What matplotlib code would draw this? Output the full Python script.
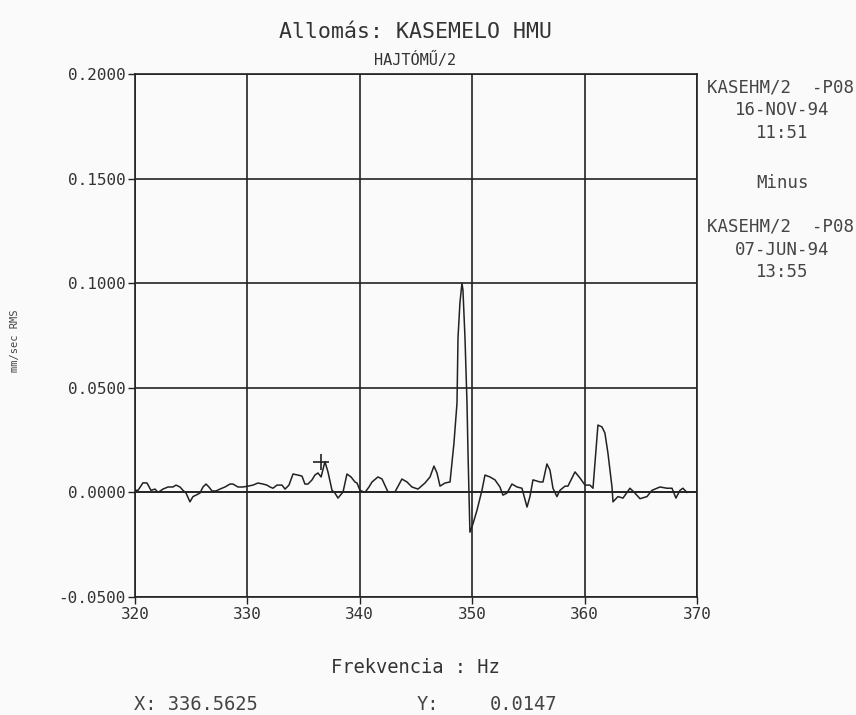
import numpy as np
import matplotlib.pyplot as plt

# spektrum különbség
freq = [320.00, 320.27, 320.71, 321.07, 321.42, 321.78, 322.05, 322.49, 322.94, 323.38,
        323.65, 324.00, 324.27, 324.54, 324.89, 325.16, 325.43, 325.78, 326.05, 326.32,
        326.58, 326.85, 327.21, 327.56, 328.01, 328.45, 328.72, 329.16, 329.61, 330.05,
        330.50, 330.94, 331.39, 331.74, 332.01, 332.28, 332.63, 333.08, 333.35, 333.70,
        334.06, 334.50, 334.86, 335.12, 335.39, 335.75, 336.01, 336.28, 336.56, 336.90,
        337.17, 337.53, 337.79, 338.06, 338.51, 338.86, 339.22, 339.57, 339.75, 340.02,
        340.46, 340.82, 341.09, 341.62, 341.98, 342.51, 343.13, 343.75, 344.20, 344.64,
        345.18, 345.80, 346.25, 346.60, 346.87, 347.14, 347.58, 348.03, 348.38, 348.65,
        348.74, 348.91, 349.09, 349.18, 349.36, 349.54, 349.63, 349.80, 350.07, 350.43,
        350.87, 351.14, 351.58, 352.03, 352.47, 352.74, 353.10, 353.54, 353.99, 354.43,
        354.88, 355.14, 355.41, 356.03, 356.30, 356.65, 356.92, 357.19, 357.54, 357.81,
        358.26, 358.52, 359.15, 359.59, 360.04, 360.48, 360.75, 361.19, 361.55, 361.81,
        362.08, 362.44, 362.53, 362.97, 363.42, 364.04, 364.48, 364.93, 365.55, 366.00,
        366.71, 367.33, 367.78, 368.13, 368.49, 368.75, 369.11]
ampl = [0.0010, 0.0010, 0.0046, 0.0045, 0.0010, 0.0016, 0.0000, 0.0016, 0.0026, 0.0026,
        0.0035, 0.0026, 0.0010, -0.0003, -0.0045, -0.0020, -0.0013, -0.0003, 0.0026, 0.0040,
        0.0026, 0.0007, 0.0007, 0.0016, 0.0026, 0.0040, 0.0040, 0.0026, 0.0026, 0.0030,
        0.0035, 0.0045, 0.0040, 0.0035, 0.0026, 0.0020, 0.0035, 0.0035, 0.0016, 0.0035,
        0.0088, 0.0083, 0.0078, 0.0040, 0.0040, 0.0060, 0.0083, 0.0093, 0.0074, 0.0147,
        0.0098, 0.0010, -0.0003, -0.0027, 0.0002, 0.0088, 0.0074, 0.0050, 0.0045, 0.0010,
        0.0000, 0.0026, 0.0050, 0.0074, 0.0064, 0.0002, 0.0002, 0.0064, 0.0050, 0.0026,
        0.0016, 0.0045, 0.0074, 0.0126, 0.0093, 0.0030, 0.0045, 0.0050, 0.0236, 0.0427,
        0.0740, 0.0905, 0.1000, 0.0967, 0.0740, 0.0427, 0.0188, -0.0190, -0.0150, -0.0085,
        0.0010, 0.0083, 0.0074, 0.0060, 0.0026, -0.0013, -0.0003, 0.0040, 0.0026, 0.0020,
        -0.0070, -0.0020, 0.0060, 0.0050, 0.0050, 0.0136, 0.0107, 0.0020, -0.0020, 0.0010,
        0.0030, 0.0030, 0.0098, 0.0069, 0.0035, 0.0035, 0.0020, 0.0322, 0.0313, 0.0284,
        0.0188, 0.0026, -0.0045, -0.0020, -0.0027, 0.0020, -0.0003, -0.0030, -0.0020, 0.0010,
        0.0026, 0.0020, 0.0020, -0.0027, 0.0010, 0.0020, 0.0000]

cursor_x = 336.5625
cursor_y = 0.0147

xticks = [320, 330, 340, 350, 360, 370]
yticks = [-0.05, 0.0, 0.05, 0.1, 0.15, 0.2]

plt.rcParams['font.family'] = ['DejaVu Sans Mono']
ink = '#222222'
txtc = '#444444'

fig = plt.figure(figsize=(8.56, 7.15), dpi=100, facecolor='#fafafa')
ax = fig.add_axes([0.1577, 0.165, 0.6565, 0.7315])
ax.set_facecolor('#fafafa')

ax.plot(freq, ampl, color=ink, lw=1.1)
ax.plot([cursor_x], [cursor_y], marker='+', ms=11, mew=1.2, color=ink)

ax.set_xlim(320, 370)
ax.set_ylim(-0.05, 0.2)
ax.set_xticks(xticks)
ax.set_yticks(yticks)
ax.set_xticklabels([str(t) for t in xticks])
ax.set_yticklabels([f'{t:.4f}' for t in yticks])
ax.grid(True, color=ink, lw=1.2)
ax.axhline(0, color=ink, lw=1.2)
ax.tick_params(direction='out', length=5, width=1.0, colors=ink, labelsize=11.5, pad=2,
               labelcolor='#333333')
for s in ax.spines.values():
    s.set_color(ink)
    s.set_linewidth(1.2)

# feliratok
fig.text(0.485, 0.955, 'Allomás: KASEMELO HMU', ha='center', va='center', fontsize=15.5, color='#333333')
fig.text(0.485, 0.916, 'HAJTÓMŰ/2', ha='center', va='center', fontsize=11, color='#333333')
fig.text(0.018, 0.523, 'mm/sec RMS', rotation=90, ha='center', va='center', fontsize=7.5, color=txtc)
fig.text(0.485, 0.067, 'Frekvencia : Hz', ha='center', va='center', fontsize=13.5, color='#333333')
fig.text(0.157, 0.015, 'X: 336.5625', ha='left', va='center', fontsize=13.5, color=txtc)
fig.text(0.487, 0.015, 'Y:', ha='left', va='center', fontsize=13.5, color=txtc)
fig.text(0.572, 0.015, '0.0147', ha='left', va='center', fontsize=13.5, color=txtc)

right_lines = [('KASEHM/2  -P08', 0.878), ('16-NOV-94', 0.846), ('11:51', 0.814),
               ('Minus', 0.744), ('KASEHM/2  -P08', 0.683), ('07-JUN-94', 0.650),
               ('13:55', 0.620)]
for txt, yy in right_lines:
    if txt.startswith('KASEHM'):
        fig.text(0.826, yy, txt, ha='left', va='center', fontsize=12.5, color=txtc)
    else:
        fig.text(0.914, yy, txt, ha='center', va='center', fontsize=12.5, color=txtc)

fig.savefig('out.png', dpi=100, facecolor=fig.get_facecolor())
